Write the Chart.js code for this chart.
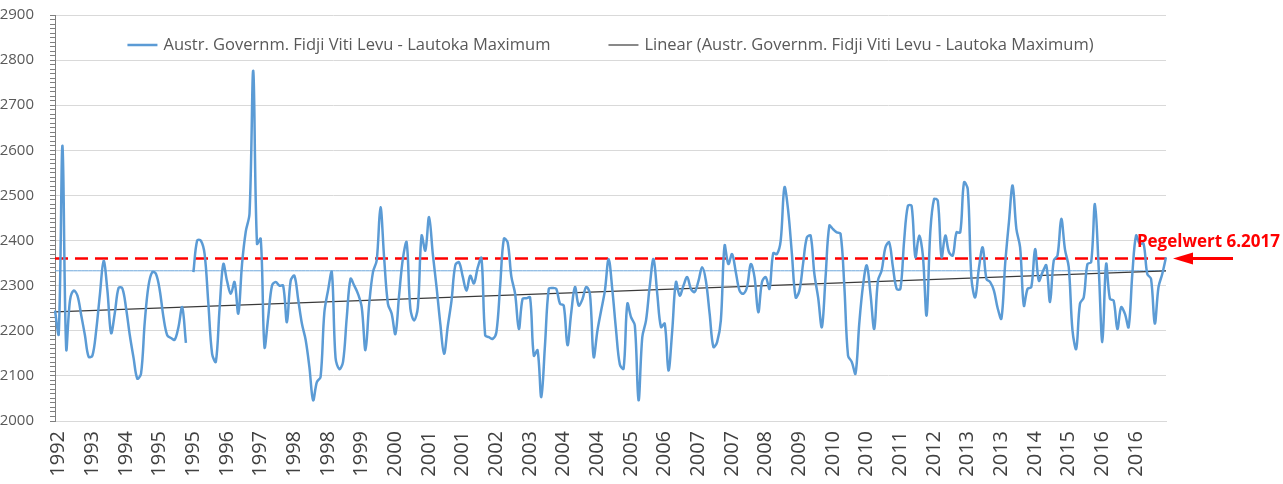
<!DOCTYPE html>
<html>
<head>
<meta charset="utf-8">
<script src="https://cdn.jsdelivr.net/npm/chart.js@4.4.1/dist/chart.umd.min.js"></script>
<style>
  html, body { margin: 0; padding: 0; background: #fff; }
  canvas { display: block; }
</style>
</head>
<body>
<canvas id="pegelChart" width="1283" height="484"></canvas>
<script>
const seriesLabel = "Austr. Governm. Fidji Viti Levu - Lautoka Maximum";
const trendLabel = "Linear (Austr. Governm. Fidji Viti Levu - Lautoka Maximum)";

const tickLabels = ["1992", "1993", "1994", "1995", "1995", "1996", "1997", "1998", "1998", "1999",
    "2000", "2001", "2001", "2002", "2003", "2004", "2004", "2005", "2006", "2007", "2007",
    "2008", "2009", "2010", "2010", "2011", "2012", "2013", "2013", "2014", "2015", "2016", "2016"];

// monthly maximum (null = missing month)
const lautokaMax = [
    2245, 2193, 2610, 2160, 2267, 2289, 2278, 2235, 2190, 2142,
    2145, 2200, 2280, 2355, 2290, 2195, 2240, 2295, 2294, 2250,
    2190, 2140, 2094, 2105, 2220, 2300, 2330, 2326, 2290, 2230,
    2190, 2184, 2180, 2208, 2252, 2173, null, 2330, 2400, 2400,
    2370, 2260, 2149, 2131, 2250, 2348, 2310, 2282, 2308, 2238,
    2348, 2420, 2460, 2776, 2393, 2404, 2164, 2230, 2300, 2308,
    2300, 2300, 2219, 2311, 2322, 2270, 2216, 2180, 2120, 2046,
    2086, 2098, 2240, 2290, 2330, 2140, 2115, 2131, 2230, 2315,
    2300, 2282, 2252, 2157, 2260, 2330, 2356, 2474, 2360, 2260,
    2238, 2193, 2280, 2360, 2396, 2249, 2223, 2252, 2411, 2378,
    2452, 2370, 2297, 2216, 2149, 2210, 2267, 2345, 2352, 2320,
    2289, 2322, 2305, 2340, 2361, 2190, 2186, 2182, 2197, 2300,
    2404, 2396, 2320, 2282, 2204, 2271, 2272, 2274, 2145, 2157,
    2053, 2170, 2293, 2295, 2293, 2260, 2256, 2168, 2240, 2297,
    2256, 2270, 2297, 2282, 2142, 2200, 2245, 2289, 2359, 2290,
    2200, 2125, 2116, 2260, 2230, 2212, 2046, 2186, 2223, 2300,
    2359, 2282, 2208, 2216, 2112, 2200, 2308, 2278, 2300, 2319,
    2293, 2286, 2310, 2341, 2311, 2238, 2164, 2175, 2223, 2389,
    2348, 2370, 2330, 2289, 2282, 2297, 2348, 2319, 2241, 2308,
    2319, 2293, 2372, 2370, 2400, 2518, 2466, 2370, 2274, 2289,
    2350, 2407, 2411, 2326, 2274, 2208, 2320, 2433, 2425, 2418,
    2415, 2300, 2145, 2131, 2105, 2216, 2300, 2345, 2282, 2204,
    2311, 2334, 2385, 2396, 2341, 2293, 2293, 2400, 2477, 2477,
    2363, 2411, 2367, 2234, 2420, 2492, 2488, 2363, 2411, 2374,
    2367, 2418, 2418, 2529, 2514, 2315, 2274, 2340, 2385, 2315,
    2308, 2289, 2250, 2227, 2348, 2440, 2522, 2426, 2385, 2256,
    2293, 2297, 2381, 2311, 2330, 2345, 2264, 2356, 2367, 2448,
    2380, 2341, 2201, 2160, 2260, 2274, 2348, 2352, 2481, 2341,
    2175, 2348, 2271, 2267, 2204, 2252, 2238, 2208, 2326, 2411,
    2393, 2393, 2326, 2315, 2216, 2297, 2326, 2363
];

const trendEnds = [2242, 2333];   // start and end of the Excel linear trendline
const pegel = 2360;               // Pegelwert 6.2017
const meanLine = 2333;

const categories = lautokaMax.map((_, i) => i % 9 === 1 ? tickLabels[(i - 1) / 9] : "");
const last = lautokaMax.length - 1;

const legendInside = {
    id: "legendInside",
    afterDraw(chart) {
        const { ctx, chartArea } = chart;
        const items = chart.data.datasets.slice(0, 2);
        ctx.save();
        ctx.font = "16.5px 'Open Sans'";
        const sample = 30, gap = 6, between = 58;
        const widths = items.map(d => sample + gap + ctx.measureText(d.label).width);
        let x = (chartArea.left + chartArea.right) / 2 - (widths[0] + widths[1] + between) / 2;
        const y = chartArea.top + 30;
        items.forEach((d, i) => {
            ctx.strokeStyle = d.borderColor;
            ctx.lineWidth = d.borderWidth;
            ctx.beginPath();
            ctx.moveTo(x, y);
            ctx.lineTo(x + sample, y);
            ctx.stroke();
            ctx.fillStyle = "#595959";
            ctx.textBaseline = "middle";
            ctx.fillText(d.label, x + sample + gap, y);
            x += widths[i] + between;
        });
        ctx.restore();
    }
};

const pegelMark = {
    id: "pegelMark",
    afterDraw(chart) {
        const { ctx, chartArea, scales } = chart;
        const y = scales.y.getPixelForValue(pegel);
        const tip = chartArea.right + 7;
        ctx.save();
        ctx.fillStyle = "#ff0000";
        ctx.strokeStyle = "#ff0000";
        ctx.lineWidth = 3;
        ctx.beginPath();
        ctx.moveTo(tip + 16, y);
        ctx.lineTo(tip + 60, y);
        ctx.stroke();
        ctx.beginPath();
        ctx.moveTo(tip, y);
        ctx.lineTo(tip + 20, y - 6);
        ctx.lineTo(tip + 20, y + 6);
        ctx.closePath();
        ctx.fill();
        ctx.font = "bold 17px 'Open Sans'";
        ctx.textAlign = "right";
        ctx.textBaseline = "middle";
        ctx.fillText("Pegelwert 6.2017", chart.width - 3, y - 16);
        ctx.restore();
    }
};

new Chart(document.getElementById("pegelChart").getContext("2d"), {
    type: "line",
    data: {
        labels: categories,
        datasets: [{
            label: seriesLabel,
            data: lautokaMax,
            borderColor: "#5b9bd5",
            borderWidth: 2.5,
            tension: 0.35,
            pointRadius: 0
        }, {
            label: trendLabel,
            data: lautokaMax.map((_, i) => i === 0 ? trendEnds[0] : i === last ? trendEnds[1] : null),
            borderColor: "#3a3a3a",
            borderWidth: 1.2,
            spanGaps: true,
            pointRadius: 0
        }, {
            label: "Pegelwert",
            data: lautokaMax.map(() => pegel),
            borderColor: "#ff0000",
            borderWidth: 2.5,
            borderDash: [13, 7],
            pointRadius: 0
        }, {
            label: "Mittel",
            data: lautokaMax.map(() => meanLine),
            borderColor: "#6fa8dc",
            borderWidth: 1,
            pointRadius: 0
        }]
    },
    options: {
        responsive: false,
        animation: false,
        layout: { padding: { top: 15, right: 117, left: 0, bottom: 0 } },
        plugins: {
            legend: { display: false },
            tooltip: { enabled: false }
        },
        scales: {
            x: {
                grid: { display: false, drawTicks: false },
                border: { color: "#d9d9d9" },
                ticks: {
                    autoSkip: false,
                    minRotation: 90,
                    maxRotation: 90,
                    padding: 10,
                    color: "#404040",
                    font: { family: "'Open Sans'", size: 20 }
                },
                afterFit(s) { s.height = 63; s.paddingLeft = 0; s.paddingRight = 0; }
            },
            y: {
                min: 2000,
                max: 2900,
                grid: {
                    color: c => c.tick && c.tick.value % 100 === 0 ? "#d9d9d9" : "rgba(0,0,0,0)",
                    tickColor: "#7f7f7f",
                    tickLength: 5
                },
                border: { color: "#7f7f7f" },
                ticks: {
                    stepSize: 10,
                    autoSkip: false,
                    padding: 16,
                    color: "#595959",
                    font: { family: "'Open Sans'", size: 15 },
                    callback: v => v % 100 === 0 ? v : ""
                },
                afterFit(s) { s.width = 55; s.paddingTop = 0; s.paddingBottom = 0; }
            }
        }
    },
    plugins: [legendInside, pegelMark]
});
</script>
</body>
</html>
